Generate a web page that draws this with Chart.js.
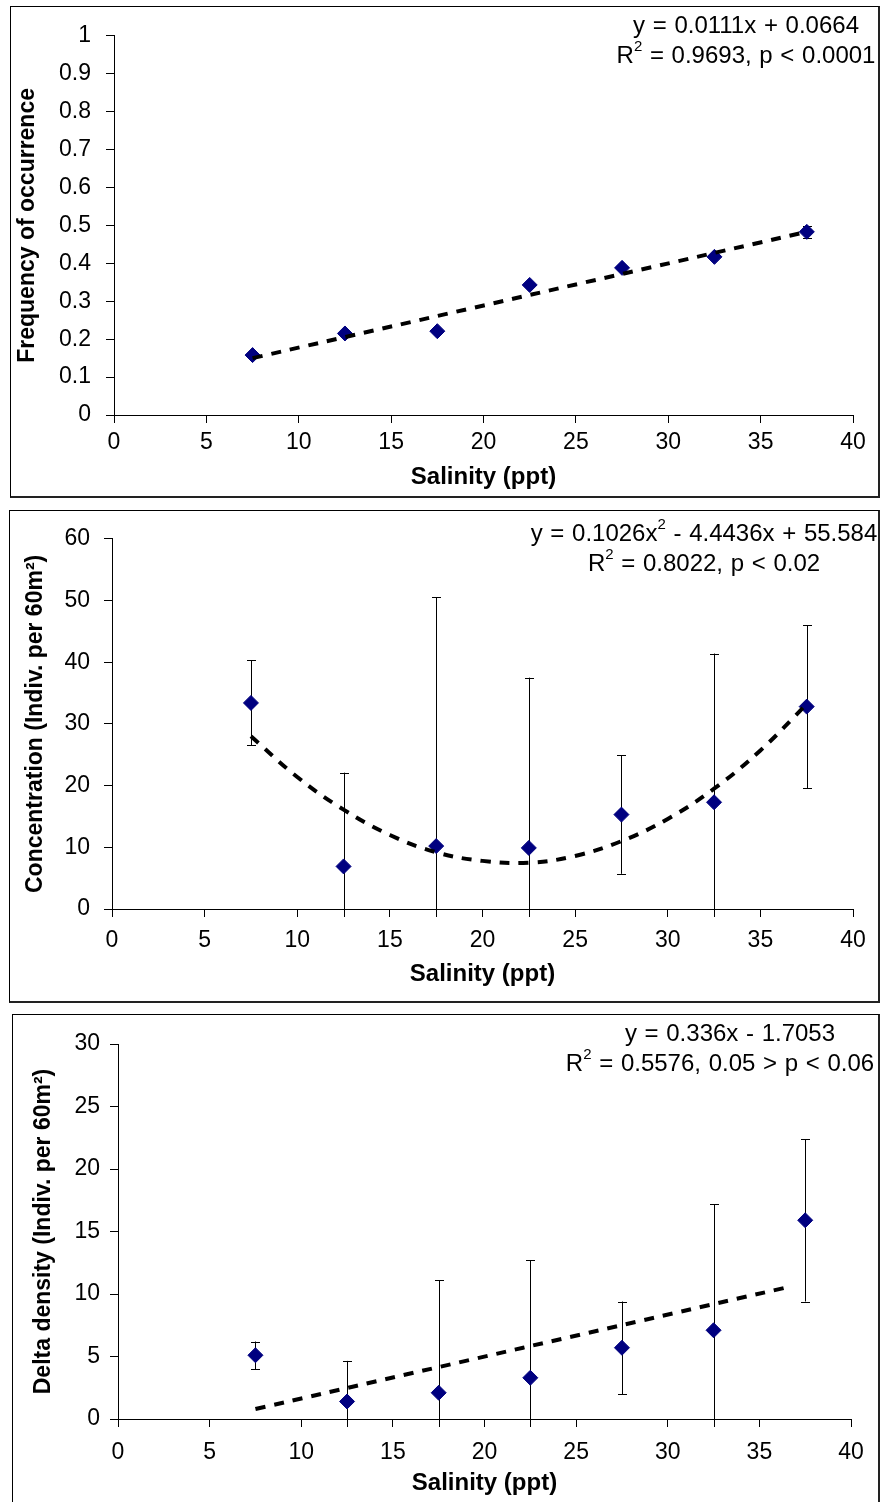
<!DOCTYPE html>
<html><head><meta charset="utf-8">
<script src="https://cdn.jsdelivr.net/npm/chart.js@4/dist/chart.umd.min.js"></script>
<style>
html,body{margin:0;padding:0;background:#fff;width:882px;height:1502px;overflow:hidden;}
.panel{position:absolute;box-sizing:border-box;border-left:1px solid #000;border-top:1px solid #000;border-right:2px solid #222;border-bottom:2px solid #222;}
.panel canvas{position:absolute;left:0;top:0;}
.eq{position:absolute;font-family:"Liberation Sans",Arial,sans-serif;font-size:24px;color:#000;white-space:nowrap;transform:translate(-50%,-50%);line-height:1;word-spacing:1px;}
.eq sup{font-size:15px;vertical-align:top;position:relative;top:-5px;}
</style></head><body>
<div class="panel" id="p1"><canvas id="c1"></canvas></div>
<div class="panel" id="p2"><canvas id="c2"></canvas></div>
<div class="panel" id="p3"><canvas id="c3"></canvas></div>
<div class="eq" style="left:746px;top:25px">y = 0.0111x + 0.0664</div>
<div class="eq" style="left:746px;top:55px">R<sup>2</sup> = 0.9693, p &lt; 0.0001</div>
<div class="eq" style="left:704px;top:533px">y = 0.1026x<sup>2</sup> - 4.4436x + 55.584</div>
<div class="eq" style="left:704px;top:563px">R<sup>2</sup> = 0.8022, p &lt; 0.02</div>
<div class="eq" style="left:730px;top:1033px">y = 0.336x - 1.7053</div>
<div class="eq" style="left:720px;top:1063px">R<sup>2</sup> = 0.5576, 0.05 &gt; p &lt; 0.06</div>
<script>
// ---- data ----
const salinity = [7.5, 12.5, 17.5, 22.5, 27.5, 32.5, 37.5];
const xTicks = [0, 5, 10, 15, 20, 25, 30, 35, 40];

const freq = [0.158, 0.215, 0.221, 0.343, 0.388, 0.417, 0.483];
const freqErr = [0.004, 0.004, 0.004, 0.004, 0.004, 0.004, 0.015];
const freqTrendX = [7.5, 37.5];
const freqTrendY = [0.150, 0.483];
const freqTicks = [0, 0.1, 0.2, 0.3, 0.4, 0.5, 0.6, 0.7, 0.8, 0.9, 1];

const conc = [33.4, 6.9, 10.2, 9.9, 15.3, 17.3, 32.8];
const concErr = [6.9, 15.2, 40.3, 27.6, 9.6, 24.1, 13.2];
const concTrendX = [7.5, 10, 12.5, 15, 17.5, 20, 22.5, 25, 27.5, 30, 32.5, 35, 37.5];
const concTrendY = [28.0, 21.4, 16.1, 12.0, 9.2, 7.8, 7.5, 8.6, 11.0, 14.6, 19.5, 25.7, 33.2];
const concTicks = [0, 10, 20, 30, 40, 50, 60];

const dens = [5.1, 1.4, 2.1, 3.3, 5.7, 7.1, 15.9];
const densErr = [1.1, 3.25, 9.0, 9.4, 3.7, 10.1, 6.5];
const densTrendX = [7.5, 36.7];
const densTrendY = [0.8, 10.6];
const densTicks = [0, 5, 10, 15, 20, 25, 30];

const xTitle = 'Salinity (ppt)';
const yTitles = ['Frequency of occurrence', 'Concentration (Indiv. per 60m\u00B2)', 'Delta density (Indiv. per 60m\u00B2)'];

// ---- rendering ----
const FONT = '"Liberation Sans", Arial, sans-serif';

const errorBars = {
  id: 'errorBars',
  beforeDatasetsDraw(chart) {
    const {ctx, chartArea: a, scales: {x, y}} = chart;
    ctx.save();
    ctx.beginPath();
    ctx.rect(a.left - 10, a.top - 20, a.right - a.left + 20, a.bottom - a.top + 28);
    ctx.clip();
    ctx.strokeStyle = '#000';
    ctx.lineWidth = 1;
    chart.data.datasets.forEach(ds => {
      if (!ds.errors) return;
      ds.data.forEach((p, i) => {
        const e = ds.errors[i];
        const px = Math.round(x.getPixelForValue(p.x)) + 0.5;
        const hi = y.getPixelForValue(p.y + e);
        const loV = p.y - e;
        const lo = loV < y.min ? a.bottom + 8 : y.getPixelForValue(loV);
        ctx.beginPath();
        ctx.moveTo(px, hi); ctx.lineTo(px, lo);
        ctx.moveTo(px - 4.5, Math.round(hi) + 0.5); ctx.lineTo(px + 4.5, Math.round(hi) + 0.5);
        if (loV >= y.min) { ctx.moveTo(px - 4.5, Math.round(lo) + 0.5); ctx.lineTo(px + 4.5, Math.round(lo) + 0.5); }
        ctx.stroke();
      });
    });
    ctx.restore();
  }
};

function makeChart(n, g) {
  const panel = document.getElementById('p' + n);
  const cv = document.getElementById('c' + n);
  const b = g.box, a = g.area;
  panel.style.left = b.l + 'px'; panel.style.top = b.t + 'px';
  panel.style.width = (b.r - b.l) + 'px'; panel.style.height = (b.b - b.t) + 'px';
  const cx0 = b.l + 1, cy0 = b.t + 1;
  const cw = b.r - b.l - 3, ch = b.b - b.t - 3;
  cv.width = cw; cv.height = ch;
  cv.style.width = cw + 'px'; cv.style.height = ch + 'px';
  const tickArr = g.yTicks;
  return new Chart(cv, {
    type: 'scatter',
    data: {
      datasets: [
        {
          data: salinity.map((s, i) => ({x: s, y: g.values[i]})),
          errors: g.errors,
          pointStyle: 'rectRot', pointRadius: 7.5, pointHoverRadius: 7.5,
          backgroundColor: '#000080', borderColor: '#000080', borderWidth: 1,
          order: 2
        },
        {
          data: g.trendX.map((s, i) => ({x: s, y: g.trendY[i]})),
          showLine: true, pointRadius: 0, borderColor: '#000', borderWidth: 4,
          borderDash: [10, 9], borderCapStyle: 'butt', tension: 0.4, fill: false,
          order: 1
        }
      ]
    },
    options: {
      responsive: false, animation: false, devicePixelRatio: 1,
      layout: {padding: {left: 0, top: a.t - cy0, right: cx0 + cw - a.r, bottom: 0}},
      plugins: {legend: {display: false}, tooltip: {enabled: false}},
      scales: {
        x: {
          type: 'linear', min: 0, max: 40,
          afterBuildTicks: s => { s.ticks = xTicks.map(v => ({value: v})); },
          afterFit: s => { s.height = cy0 + ch - a.b; },
          grid: {drawOnChartArea: false, drawTicks: true, tickLength: 8, color: '#000', lineWidth: 1},
          border: {display: true, color: '#000', width: 1},
          ticks: {color: '#000', font: {family: FONT, size: 23}, padding: g.xPad, maxRotation: 0, callback: v => String(v)},
          title: {display: true, text: xTitle, color: '#000', font: {family: FONT, size: 24, weight: 'bold'}, padding: {top: 0, bottom: g.xTitlePad}}
        },
        y: {
          type: 'linear', min: tickArr[0], max: tickArr[tickArr.length - 1],
          afterBuildTicks: s => { s.ticks = tickArr.map(v => ({value: v})); },
          afterFit: s => { s.width = a.l - cx0; },
          grid: {drawOnChartArea: false, drawTicks: true, tickLength: 8, color: '#000', lineWidth: 1},
          border: {display: true, color: '#000', width: 1},
          ticks: {color: '#000', font: {family: FONT, size: 23}, padding: g.yPad, callback: v => String(v)},
          title: {display: true, text: g.yTitle, color: '#000', font: {family: FONT, size: 23, weight: 'bold'}, padding: {top: g.yTitlePad, bottom: 0}}
        }
      }
    },
    plugins: [errorBars]
  });
}

makeChart(1, {
  box: {l: 10, t: 6, r: 880, b: 498}, area: {l: 114, t: 25, r: 853, b: 415},
  values: freq, errors: freqErr, trendX: freqTrendX, trendY: freqTrendY,
  yTicks: freqTicks, yTitle: yTitles[0], xPad: 6, yPad: 15, xTitlePad: 4, yTitlePad: 3
});
makeChart(2, {
  box: {l: 9, t: 510, r: 880, b: 1003}, area: {l: 112, t: 533, r: 853, b: 909},
  values: conc, errors: concErr, trendX: concTrendX, trendY: concTrendY,
  yTicks: concTicks, yTitle: yTitles[1], xPad: 10, yPad: 14, xTitlePad: 12, yTitlePad: 12
});
makeChart(3, {
  box: {l: 12, t: 1014, r: 880, b: 1504}, area: {l: 118, t: 1044, r: 851, b: 1419},
  values: dens, errors: densErr, trendX: densTrendX, trendY: densTrendY,
  yTicks: densTicks, yTitle: yTitles[2], xPad: 12, yPad: 10, xTitlePad: 4, yTitlePad: 17
});
</script>
</body></html>
